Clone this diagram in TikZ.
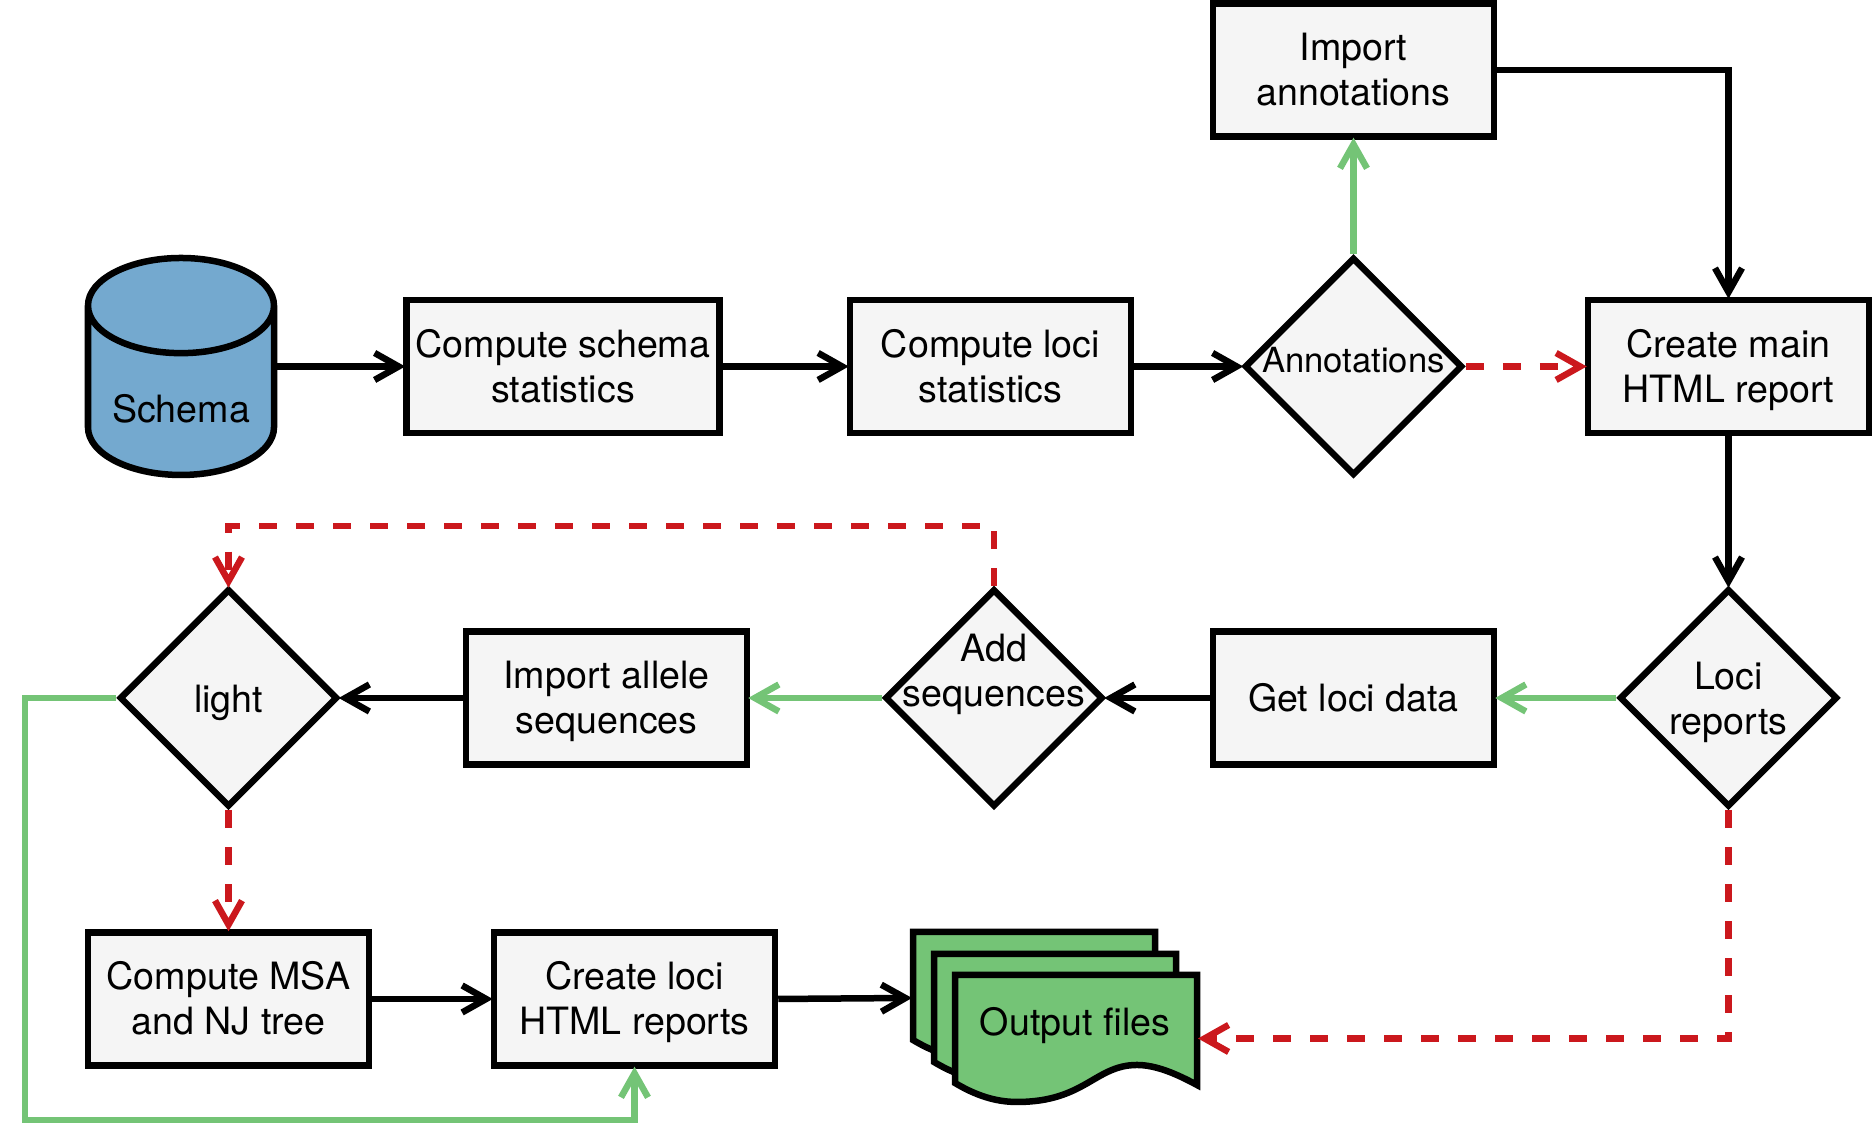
\documentclass[tikz,border=0pt]{standalone}
\usepackage{fontspec}
\setmainfont{TeX Gyre Heros}
\usepackage{tikz}
\usetikzlibrary{shapes.geometric}
\usetikzlibrary{arrows.meta}
\usetikzlibrary{positioning}

\definecolor{boxfill}{HTML}{F5F5F5}
\definecolor{dbblue}{HTML}{74A9CF}
\definecolor{outgreen}{HTML}{74C476}
\definecolor{nored}{HTML}{CB181D}

\newcommand{\liftbox}[2]{\raisebox{#1}[0pt][0pt]{\begin{tabular}{@{}c@{}}#2\end{tabular}}}
\newcommand{\boxtext}[1]{\liftbox{-0.14cm}{#1}}

\tikzset{
	every node/.style={font=\fontsize{10.7}{12.8}\selectfont},
	box/.style={draw,rectangle,fill=boxfill,line width=0.065cm,minimum width=2.81cm,minimum height=1.33cm,inner sep=0pt},
	decide/.style={draw,diamond,fill=boxfill,line width=0.065cm,minimum width=2.18cm,minimum height=2.18cm,inner sep=0pt},
	link/.style={->,line width=0.065cm,shorten >=-0.02cm},
	yesline/.style={link,outgreen},
	noline/.style={link,nored,dash pattern=on 0.18cm off 0.19cm},
	sheet/.style={draw,fill=outgreen,line width=0.065cm},
}

\begin{document}
\begin{tikzpicture}[>={Straight Barb[length=0.24cm,width=0.27cm,line width=0.065cm]}]

	\useasboundingbox (0,0) rectangle (18.72,11.47);

	% Input
	% ----------
	\node[cylinder,shape border rotate=90,aspect=0.69,draw,line width=0.065cm,fill=dbblue,
		  minimum width=1.86cm,minimum height=2.17cm,inner sep=0pt,anchor=shape center]
		  (schema) at (1.81,7.805) {\raisebox{-0.31cm}[0pt][0pt]{Schema}};

	% Upper row
	% ----------
	\node[box,minimum width=3.13cm] (schemastats) at (5.63,7.805) {\boxtext{Compute schema\\statistics}};
	\node[box] (locistats) at (9.905,7.805) {\boxtext{Compute loci\\statistics}};
	\node[decide] (annot) at (13.535,7.805) {\liftbox{-0.065cm}{\fontsize{9.85}{12}\selectfont Annotations}};
	\node[box] (importannot) at (13.535,10.77) {\boxtext{Import\\annotations}};
	\node[box] (mainreport) at (17.285,7.805) {\boxtext{Create main\\HTML report}};

	% Middle row
	% ----------
	\node[decide] (locireports) at (17.285,4.49) {\liftbox{-0.15cm}{Loci\\reports}};
	\node[box] (getloci) at (13.535,4.49) {\boxtext{Get loci data}};
	\node[decide] (addseq) at (9.94,4.49) {\liftbox{0.13cm}{Add\\sequences}};
	\node[box] (importallele) at (6.065,4.49) {\boxtext{Import allele\\sequences}};
	\node[decide] (light) at (2.285,4.49) {\liftbox{-0.155cm}{light}};

	% Lower row
	% ----------
	\node[box] (msa) at (2.285,1.48) {\boxtext{Compute MSA\\and NJ tree}};
	\node[box] (locihtml) at (6.345,1.48) {\boxtext{Create loci\\HTML reports}};

	% Output files
	\foreach \sx/\sy in {9.13/-0.85, 9.34/-1.07, 9.55/-1.28}{
		\draw[sheet,shift={(\sx,\sy)}] (0,3.0) -- (2.42,3.0) -- (2.42,1.90)
			.. controls (2.2,2.02) and (2.0,2.10) .. (1.82,2.10)
			.. controls (1.4,2.10) and (1.3,1.73) .. (0.62,1.73)
			.. controls (0.4,1.73) and (0.2,1.80) .. (0,1.92) -- cycle;
	}
	\node (outfiles) at (10.75,1.215) {Output files};
	\coordinate (outleft) at (9.10,1.49);
	\coordinate (outright) at (12.00,1.085);

	% Bends
	\coordinate (topbend) at (2.285,6.21);
	\coordinate (loopbend) at (0.25,0.27);

	% Connections
	\draw[link] (schema.east |- schemastats.west) -- (schemastats.west);
	\draw[link] (schemastats.east) -- (locistats.west);
	\draw[link] (locistats.east) -- (annot.west);
	\draw[yesline] (annot.north) -- (importannot.south);
	\draw[noline] (annot.east) -- (mainreport.west);
	\draw[link] (importannot.east) -| (mainreport.north);
	\draw[link] (mainreport.south) -- (locireports.north);
	\draw[yesline] (locireports.west) -- (getloci.east);
	\draw[noline] (locireports.south) |- (outright);
	\draw[link] (getloci.west) -- (addseq.east);
	\draw[yesline] (addseq.west) -- (importallele.east);
	\draw[noline] (addseq.north) |- (topbend) -- (light.north);
	\draw[link] (importallele.west) -- (light.east);
	\draw[noline] (light.south) -- (msa.north);
	\draw[yesline] (light.west) -| (loopbend) -| (locihtml.south);
	\draw[link] (msa.east) -- (locihtml.west);
	\draw[link] (locihtml.east) -- (outleft);

\end{tikzpicture}
\end{document}
